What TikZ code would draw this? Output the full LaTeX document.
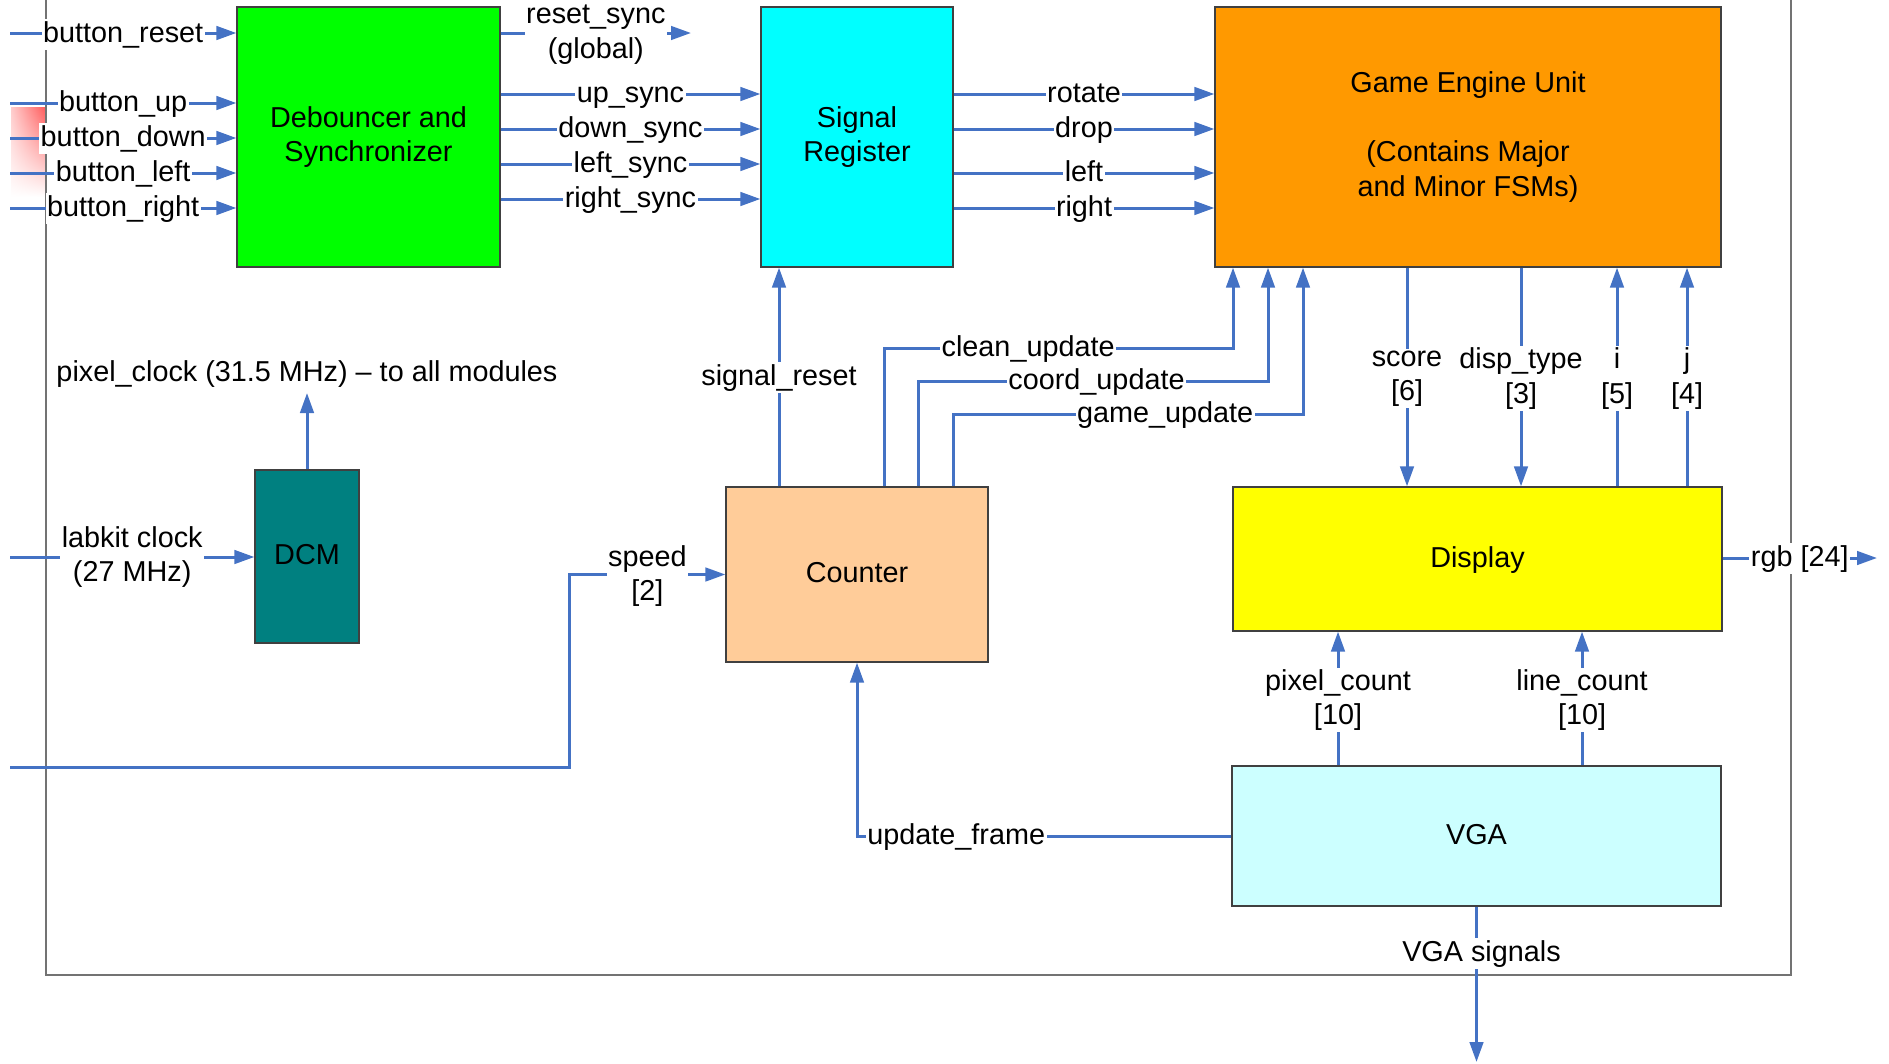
\documentclass[tikz,border=0pt]{standalone}
\usepackage{fontspec}
\setmainfont{Liberation Sans}
\usetikzlibrary{arrows.meta,calc,shadings}
\definecolor{lnblue}{HTML}{4472C4}
\definecolor{cgreen}{HTML}{00FF00}
\definecolor{ccyan}{HTML}{00FFFF}
\definecolor{corange}{HTML}{FF9900}
\definecolor{cteal}{HTML}{008080}
\definecolor{cpeach}{HTML}{FFCC99}
\definecolor{cyellow}{HTML}{FFFF00}
\definecolor{clcyan}{HTML}{CCFFFF}
\newcommand\dfont{\fontsize{28.8}{34.5}\selectfont}
\newcommand\lstr{\rule[-6pt]{0pt}{28pt}}
\newcommand\tallstr{\rule{0pt}{27pt}}
\begin{document}
\begin{tikzpicture}[x=1pt,y=-1pt,
 box/.style={draw=black!75, line width=1.2pt, inner sep=0pt, align=center, font=\dfont, text=black,
   execute at begin node=\lstr, execute at end node=\lstr},
 boxm/.style={box, execute at begin node=\tallstr},
 arr/.style={draw=lnblue, line width=3pt, -{Triangle[length=20pt,width=13.5pt]}},
 lbl/.style={fill=white, inner sep=1.5pt, align=center, font=\dfont, text=black,
   execute at begin node=\lstr, execute at end node=\lstr},
 lblm/.style={lbl, yshift=-1.5pt},
 framel/.style={draw=black!55, line width=1.2pt}]
\useasboundingbox (0,0) rectangle (1889,1063);
% faint artifact
\shade[upper right=red!65, upper left=red!20, lower left=white, lower right=white] (11,107) rectangle (46,197);
% frame
\draw[framel] (46,0) |- (1791,975) -- (1791,0);
% boxes
\node[boxm, fill=cgreen, minimum width=263pt, minimum height=260pt] (deb) at (368.5,137) {Debouncer and\\Synchronizer};
\node[boxm, fill=ccyan, minimum width=192pt, minimum height=260pt] (sreg) at (857,137) {Signal\\Register};
\node[boxm, fill=corange, minimum width=506pt, minimum height=260pt] (eng) at (1468,137) {Game Engine Unit\\[34.5pt](Contains Major\\and Minor FSMs)};
\node[box, fill=cteal, minimum width=104pt, minimum height=173pt] (dcm) at (307,556.5) {DCM};
\node[box, fill=cpeach, minimum width=262pt, minimum height=175pt] (cnt) at (857,574.5) {Counter};
\node[box, fill=cyellow, minimum width=489pt, minimum height=144pt] (disp) at (1477.5,559) {Display};
\node[box, fill=clcyan, minimum width=489pt, minimum height=140pt] (vga) at (1476.5,836) {VGA};
% free ends
\coordinate (in1) at (10,33);
\coordinate (in2) at (10,103);
\coordinate (in3) at (10,138);
\coordinate (in4) at (10,173);
\coordinate (in5) at (10,208);
\coordinate (inclk) at (10,557);
\coordinate (inspd) at (10,767);
\coordinate (rsout) at (691,33);
\coordinate (pctip) at (307,393);
\coordinate (rgbout) at (1877,558);
\coordinate (vout) at (1476.5,1062);
% inputs
\draw[arr] (in1) -- node[lbl,yshift=-1pt]{button\_reset} (in1 -| deb.west);
\draw[arr] (in2) -- node[lbl]{button\_up} (in2 -| deb.west);
\draw[arr] (in3) -- node[lbl]{button\_down} (in3 -| deb.west);
\draw[arr] (in4) -- node[lbl]{button\_left} (in4 -| deb.west);
\draw[arr] (in5) -- node[lbl]{button\_right} (in5 -| deb.west);
% debouncer outputs
\draw[arr] (deb.east |- rsout) -- node[lblm]{reset\_sync\\(global)} (rsout);
\draw[arr] (deb.east |- 0,94) -- node[lbl]{up\_sync} (sreg.west |- 0,94);
\draw[arr] (deb.east |- 0,129) -- node[lbl]{down\_sync} (sreg.west |- 0,129);
\draw[arr] (deb.east |- 0,164) -- node[lbl]{left\_sync} (sreg.west |- 0,164);
\draw[arr] (deb.east |- 0,199) -- node[lbl]{right\_sync} (sreg.west |- 0,199);
% signal register outputs
\draw[arr] (sreg.east |- 0,94) -- node[lbl]{rotate} (eng.west |- 0,94);
\draw[arr] (sreg.east |- 0,129) -- node[lbl]{drop} (eng.west |- 0,129);
\draw[arr] (sreg.east |- 0,173) -- node[lbl]{left} (eng.west |- 0,173);
\draw[arr] (sreg.east |- 0,208) -- node[lbl]{right} (eng.west |- 0,208);
% clock
\draw[arr] (inclk) -- node[lbl]{labkit clock\\(27 MHz)} (dcm.west |- inclk);
\draw[arr] (dcm.north) -- (pctip);
\node[lbl] (pclab) at (307,373) {pixel\_clock (31.5 MHz) – to all modules};
% speed
\draw[arr] (inspd) -| (569.5,574.5) -- node[lblm]{speed\\{[2]}} (cnt.west);
% counter outputs
\draw[arr] (cnt.north -| 779,0) -- node[lbl]{signal\_reset} (sreg.south -| 779,0);
\draw[arr] (cnt.north -| 884,0) -- (884,348) -- node[lbl,pos=0.413]{clean\_update} (1233,348) -- (eng.south -| 1233,0);
\draw[arr] (cnt.north -| 918,0) -- (918,381) -- node[lbl,pos=0.51]{coord\_update} (1268,381) -- (eng.south -| 1268,0);
\draw[arr] (cnt.north -| 953,0) -- (953,414) -- node[lbl,pos=0.606]{game\_update} (1303,414) -- (eng.south -| 1303,0);
% engine <-> display
\draw[arr] (eng.south -| 1407,0) -- node[lblm]{score\\{[6]}} (disp.north -| 1407,0);
\draw[arr] (eng.south -| 1521,0) -- node[lblm]{disp\_type\\{[3]}} (disp.north -| 1521,0);
\draw[arr] (disp.north -| 1617,0) -- node[lblm]{i\\{[5]}} (eng.south -| 1617,0);
\draw[arr] (disp.north -| 1687,0) -- node[lblm]{j\\{[4]}} (eng.south -| 1687,0);
% display out
\draw[arr] (disp.east |- rgbout) -- node[lbl]{rgb [24]} (rgbout);
% vga -> display
\draw[arr] (vga.north -| 1338,0) -- node[lblm]{pixel\_count\\{[10]}} (disp.south -| 1338,0);
\draw[arr] (vga.north -| 1582,0) -- node[lblm]{line\_count\\{[10]}} (disp.south -| 1582,0);
% vga -> counter
\draw[arr] (vga.west) -- node[lbl,pos=0.735]{update\_frame} (cnt.south |- vga.west) -- (cnt.south);
% vga signals
\draw[arr] (vga.south) -- node[lbl,pos=0.3,xshift=5pt]{VGA signals} (vout);
\end{tikzpicture}
\end{document}
